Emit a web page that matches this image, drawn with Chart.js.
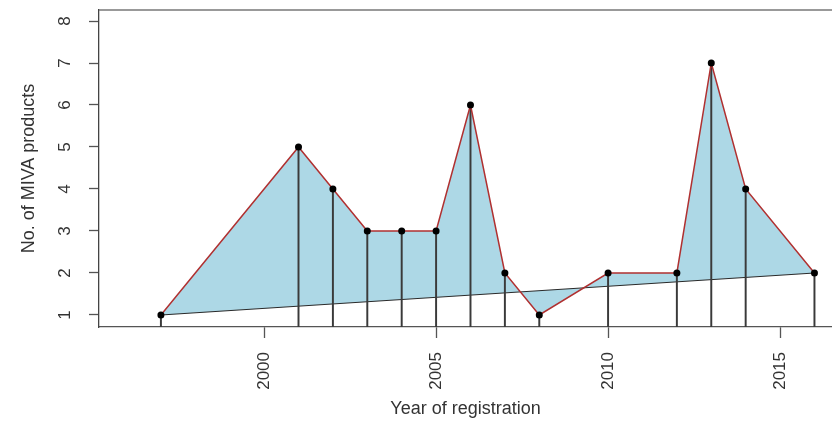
<!DOCTYPE html>
<html>
<head>
<meta charset="utf-8">
<title>MIVA products by year of registration</title>
<script src="https://cdn.jsdelivr.net/npm/chart.js@4/dist/chart.umd.min.js"></script>
<style>
  html, body { margin: 0; padding: 0; background: #ffffff; }
  canvas { display: block; }
</style>
</head>
<body>
<canvas id="chart" width="832" height="421"></canvas>
<script>
// Registrations per year
const years = [1997, 2001, 2002, 2003, 2004, 2005, 2006, 2007, 2008, 2010, 2012, 2013, 2014, 2016];
const products = [1, 5, 4, 3, 3, 3, 6, 2, 1, 2, 2, 7, 4, 2];

// Axis tick labels
const xTickValues = [2000, 2005, 2010, 2015];
const yTickValues = [1, 2, 3, 4, 5, 6, 7, 8];

// Axis ranges
const X_MIN = 1995.2, X_MAX = 2016.51;
const Y_MIN = 0.714, Y_MAX = 8.262;

const FONT = "'Liberation Sans', Arial, sans-serif";
const TEXT = '#333333';
const AXIS = '#555555';

const seriesPoints = years.map((x, i) => ({ x, y: products[i] }));
// closing edge of the polygon: last point back to the first
const closingEdge = [seriesPoints[0], seriesPoints[seriesPoints.length - 1]];
// drop lines from each point down to the axis
const dropLines = years.map((x, i) => ({ x, y: [Y_MIN, products[i]] }));

// R-style rotated tick labels and the open top frame line
const axisDecor = {
  id: 'axisDecor',
  afterDraw(chart) {
    const { ctx, chartArea, scales } = chart;
    ctx.save();
    ctx.strokeStyle = '#777777';
    ctx.lineWidth = 1.5;
    ctx.beginPath();
    ctx.moveTo(chartArea.left, chartArea.top);
    ctx.lineTo(chartArea.right, chartArea.top);
    ctx.stroke();

    ctx.fillStyle = TEXT;
    ctx.font = '17px ' + FONT;
    yTickValues.forEach(v => {
      const py = scales.y.getPixelForValue(v);
      ctx.save();
      ctx.translate(65, py);
      ctx.rotate(-Math.PI / 2);
      ctx.textAlign = 'center';
      ctx.textBaseline = 'middle';
      ctx.fillText(String(v), 0, 0);
      ctx.restore();
    });
    xTickValues.forEach(v => {
      const px = scales.x.getPixelForValue(v);
      ctx.save();
      ctx.translate(px, chartArea.bottom + 25);
      ctx.rotate(-Math.PI / 2);
      ctx.textAlign = 'right';
      ctx.textBaseline = 'middle';
      ctx.fillText(String(v), 0, 0);
      ctx.restore();
    });
    ctx.restore();
  }
};

new Chart(document.getElementById('chart'), {
  type: 'line',
  data: {
    datasets: [
      {
        label: 'closing edge',
        data: closingEdge,
        borderColor: '#2a2a2a',
        borderWidth: 1.2,
        pointRadius: 0,
        fill: false,
        order: 2
      },
      {
        type: 'bar',
        label: 'drop lines',
        data: dropLines,
        backgroundColor: '#3a3a3a',
        borderWidth: 0,
        barThickness: 1.3,
        order: 1
      },
      {
        label: 'No. of MIVA products',
        data: seriesPoints,
        borderColor: '#b03030',
        borderWidth: 1.5,
        tension: 0,
        pointRadius: 3.5,
        pointBackgroundColor: '#000000',
        pointBorderWidth: 0,
        fill: { target: 0, above: '#add8e6', below: '#add8e6' },
        order: 0
      }
    ]
  },
  options: {
    responsive: false,
    animation: false,
    devicePixelRatio: 1,
    layout: { autoPadding: false, padding: { top: 10, left: 0, right: 0, bottom: 0 } },
    plugins: {
      legend: { display: false },
      tooltip: { enabled: false },
      filler: { drawTime: 'beforeDatasetsDraw' }
    },
    scales: {
      x: {
        type: 'linear',
        min: X_MIN,
        max: X_MAX,
        offset: false,
        afterBuildTicks(scale) { scale.ticks = xTickValues.map(v => ({ value: v })); },
        afterFit(scale) {
          scale.height = 94;
          scale.paddingLeft = 0; scale.paddingRight = 0;
          scale.paddingTop = 0; scale.paddingBottom = 0;
        },
        ticks: { display: false },
        grid: { offset: false, drawOnChartArea: false, drawTicks: true, tickLength: 11, tickColor: AXIS, tickWidth: 1.3 },
        border: { display: true, color: AXIS, width: 1.3 },
        title: {
          display: true,
          text: 'Year of registration',
          color: TEXT,
          font: { family: FONT, size: 18, lineHeight: 1.2 },
          padding: { top: 0, bottom: 1 }
        }
      },
      y: {
        type: 'linear',
        min: Y_MIN,
        max: Y_MAX,
        afterBuildTicks(scale) { scale.ticks = yTickValues.map(v => ({ value: v })); },
        afterFit(scale) {
          scale.width = 99;
          scale.paddingLeft = 0; scale.paddingRight = 0;
          scale.paddingTop = 0; scale.paddingBottom = 0;
        },
        ticks: { display: false },
        grid: { drawOnChartArea: false, drawTicks: true, tickLength: 10, tickColor: AXIS, tickWidth: 1.3 },
        border: { display: true, color: '#444444', width: 1.3 },
        title: {
          display: true,
          text: 'No. of MIVA products',
          color: TEXT,
          font: { family: FONT, size: 18, lineHeight: 1.2 },
          padding: { top: 18, bottom: 0 }
        }
      }
    }
  },
  plugins: [axisDecor]
});
</script>
</body>
</html>
